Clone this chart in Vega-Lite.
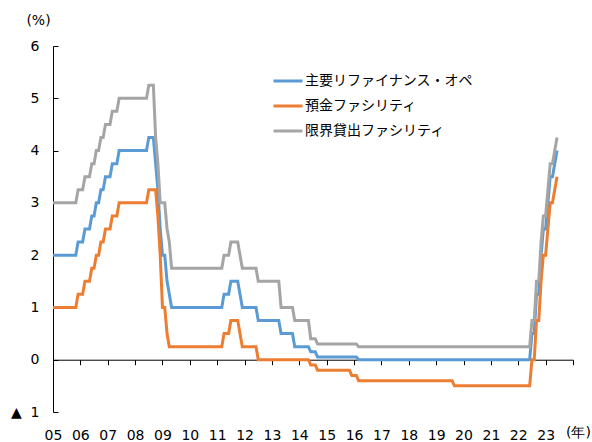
{
  "$schema": "https://vega.github.io/schema/vega-lite/v6.json",
  "autosize": {"type": "none"},
  "padding": {"left": 53, "top": 46, "right": 19, "bottom": 30},
  "width": 520,
  "height": 366,
  "background": "white",
  "config": {
    "view": {"stroke": null},
    "axis": {"grid": false, "domainColor": "#000000", "tickColor": "#000000", "labelColor": "#000000", "titleColor": "#000000", "labelFont": "DejaVu Sans", "labelFontSize": 14, "titleFont": "DejaVu Sans", "titleFontSize": 14, "titleFontWeight": "normal"}
  },
  "data": {
    "values": [
      {"t": 2005.000, "mro": 2.00, "df": 1.00, "mlf": 3.00},
      {"t": 2005.833, "mro": 2.00, "df": 1.00, "mlf": 3.00},
      {"t": 2005.917, "mro": 2.25, "df": 1.25, "mlf": 3.25},
      {"t": 2006.083, "mro": 2.25, "df": 1.25, "mlf": 3.25},
      {"t": 2006.167, "mro": 2.50, "df": 1.50, "mlf": 3.50},
      {"t": 2006.333, "mro": 2.50, "df": 1.50, "mlf": 3.50},
      {"t": 2006.417, "mro": 2.75, "df": 1.75, "mlf": 3.75},
      {"t": 2006.500, "mro": 2.75, "df": 1.75, "mlf": 3.75},
      {"t": 2006.583, "mro": 3.00, "df": 2.00, "mlf": 4.00},
      {"t": 2006.667, "mro": 3.00, "df": 2.00, "mlf": 4.00},
      {"t": 2006.750, "mro": 3.25, "df": 2.25, "mlf": 4.25},
      {"t": 2006.833, "mro": 3.25, "df": 2.25, "mlf": 4.25},
      {"t": 2006.917, "mro": 3.50, "df": 2.50, "mlf": 4.50},
      {"t": 2007.083, "mro": 3.50, "df": 2.50, "mlf": 4.50},
      {"t": 2007.167, "mro": 3.75, "df": 2.75, "mlf": 4.75},
      {"t": 2007.333, "mro": 3.75, "df": 2.75, "mlf": 4.75},
      {"t": 2007.417, "mro": 4.00, "df": 3.00, "mlf": 5.00},
      {"t": 2008.417, "mro": 4.00, "df": 3.00, "mlf": 5.00},
      {"t": 2008.500, "mro": 4.25, "df": 3.25, "mlf": 5.25},
      {"t": 2008.667, "mro": 4.25, "df": 3.25, "mlf": 5.25},
      {"t": 2008.750, "mro": 3.75, "df": 3.25, "mlf": 4.25},
      {"t": 2008.833, "mro": 3.25, "df": 2.75, "mlf": 3.75},
      {"t": 2008.917, "mro": 2.50, "df": 2.00, "mlf": 3.00},
      {"t": 2009.000, "mro": 2.00, "df": 1.00, "mlf": 3.00},
      {"t": 2009.083, "mro": 2.00, "df": 1.00, "mlf": 3.00},
      {"t": 2009.167, "mro": 1.50, "df": 0.50, "mlf": 2.50},
      {"t": 2009.250, "mro": 1.25, "df": 0.25, "mlf": 2.25},
      {"t": 2009.333, "mro": 1.00, "df": 0.25, "mlf": 1.75},
      {"t": 2011.167, "mro": 1.00, "df": 0.25, "mlf": 1.75},
      {"t": 2011.250, "mro": 1.25, "df": 0.50, "mlf": 2.00},
      {"t": 2011.417, "mro": 1.25, "df": 0.50, "mlf": 2.00},
      {"t": 2011.500, "mro": 1.50, "df": 0.75, "mlf": 2.25},
      {"t": 2011.750, "mro": 1.50, "df": 0.75, "mlf": 2.25},
      {"t": 2011.833, "mro": 1.25, "df": 0.50, "mlf": 2.00},
      {"t": 2011.917, "mro": 1.00, "df": 0.25, "mlf": 1.75},
      {"t": 2012.417, "mro": 1.00, "df": 0.25, "mlf": 1.75},
      {"t": 2012.500, "mro": 0.75, "df": 0.00, "mlf": 1.50},
      {"t": 2013.250, "mro": 0.75, "df": 0.00, "mlf": 1.50},
      {"t": 2013.333, "mro": 0.50, "df": 0.00, "mlf": 1.00},
      {"t": 2013.750, "mro": 0.50, "df": 0.00, "mlf": 1.00},
      {"t": 2013.833, "mro": 0.25, "df": 0.00, "mlf": 0.75},
      {"t": 2014.333, "mro": 0.25, "df": 0.00, "mlf": 0.75},
      {"t": 2014.417, "mro": 0.15, "df": -0.10, "mlf": 0.40},
      {"t": 2014.583, "mro": 0.15, "df": -0.10, "mlf": 0.40},
      {"t": 2014.667, "mro": 0.05, "df": -0.20, "mlf": 0.30},
      {"t": 2015.833, "mro": 0.05, "df": -0.20, "mlf": 0.30},
      {"t": 2015.917, "mro": 0.05, "df": -0.30, "mlf": 0.30},
      {"t": 2016.083, "mro": 0.05, "df": -0.30, "mlf": 0.30},
      {"t": 2016.167, "mro": 0.00, "df": -0.40, "mlf": 0.25},
      {"t": 2019.583, "mro": 0.00, "df": -0.40, "mlf": 0.25},
      {"t": 2019.667, "mro": 0.00, "df": -0.50, "mlf": 0.25},
      {"t": 2022.417, "mro": 0.00, "df": -0.50, "mlf": 0.25},
      {"t": 2022.500, "mro": 0.50, "df": 0.00, "mlf": 0.75},
      {"t": 2022.583, "mro": 0.50, "df": 0.00, "mlf": 0.75},
      {"t": 2022.667, "mro": 1.25, "df": 0.75, "mlf": 1.50},
      {"t": 2022.750, "mro": 1.25, "df": 0.75, "mlf": 1.50},
      {"t": 2022.833, "mro": 2.00, "df": 1.50, "mlf": 2.25},
      {"t": 2022.917, "mro": 2.50, "df": 2.00, "mlf": 2.75},
      {"t": 2023.000, "mro": 2.50, "df": 2.00, "mlf": 2.75},
      {"t": 2023.083, "mro": 3.00, "df": 2.50, "mlf": 3.25},
      {"t": 2023.167, "mro": 3.50, "df": 3.00, "mlf": 3.75},
      {"t": 2023.250, "mro": 3.50, "df": 3.00, "mlf": 3.75},
      {"t": 2023.333, "mro": 3.75, "df": 3.25, "mlf": 4.00},
      {"t": 2023.417, "mro": 4.00, "df": 3.50, "mlf": 4.25}
    ]
  },
  "transform": [
    {"fold": ["mro", "df", "mlf"], "as": ["series", "rate"]}
  ],
  "mark": {"type": "line", "strokeWidth": 3, "clip": false},
  "encoding": {
    "x": {
      "field": "t",
      "type": "quantitative",
      "scale": {"domain": [2005, 2024], "nice": false, "zero": false},
      "axis": {
        "orient": "bottom",
        "offset": -52.29,
        "values": [2005, 2006, 2007, 2008, 2009, 2010, 2011, 2012, 2013, 2014, 2015, 2016, 2017, 2018, 2019, 2020, 2021, 2022, 2023, 2024],
        "format": "d",
        "labelExpr": "datum.value == 2024 ? '' : substring(datum.label, 2)",
        "tickSize": 5,
        "labelPadding": 64,
        "labelFlush": false,
        "labelOverlap": false,
        "title": "(年)",
        "titleX": 525,
        "titleY": 73,
        "titleAlign": "center",
        "titleBaseline": "middle",
        "titleAnchor": null
      }
    },
    "y": {
      "field": "rate",
      "type": "quantitative",
      "scale": {"domain": [-1, 6], "nice": false},
      "axis": {
        "values": [-1, 0, 1, 2, 3, 4, 5, 6],
        "labelExpr": "datum.value < 0 ? '▲\u00a0 ' + (-datum.value) : datum.label",
        "tickSize": -5,
        "labelPadding": 19,
        "title": "(%)",
        "titleAngle": 0,
        "titleX": -15,
        "titleY": -26,
        "titleAlign": "center",
        "titleBaseline": "middle"
      }
    },
    "color": {
      "field": "series",
      "type": "nominal",
      "sort": ["mro", "df", "mlf"],
      "scale": {"domain": ["mro", "df", "mlf"], "range": ["#5B9BD5", "#ED7D31", "#A5A5A5"]},
      "legend": {
        "orient": "none",
        "legendX": 219,
        "legendY": 19,
        "title": null,
        "padding": 0,
        "labelExpr": "datum.value == 'mro' ? '主要リファイナンス・オペ' : datum.value == 'df' ? '預金ファシリティ' : '限界貸出ファシリティ'",
        "labelFont": "Noto Sans CJK JP",
        "labelFontSize": 14,
        "labelLimit": 0,
        "labelColor": "#000000",
        "labelOffset": 1,
        "symbolType": "stroke",
        "symbolSize": 841,
        "symbolStrokeWidth": 3,
        "rowPadding": 2
      }
    }
  }
}
